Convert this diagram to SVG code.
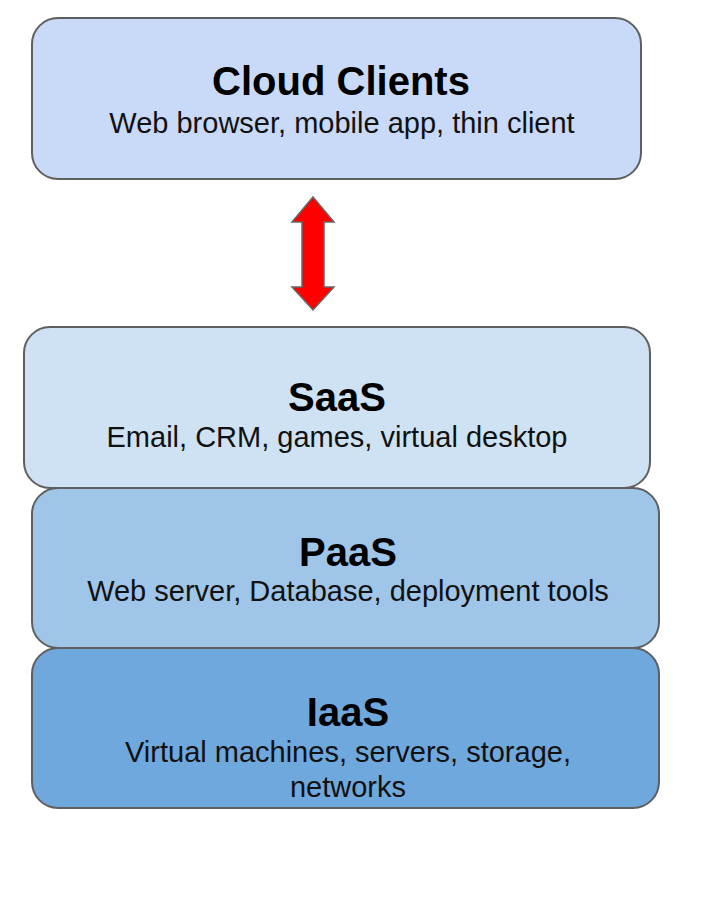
<svg xmlns="http://www.w3.org/2000/svg" width="713" height="903" viewBox="0 0 713 903">
<style>
.box{stroke:#5f5f5f;stroke-width:2}
.t{font-family:"Liberation Sans",Arial,sans-serif;font-weight:bold;font-size:40px;fill:#000;text-anchor:middle}
.s{font-family:"Liberation Sans",Arial,sans-serif;font-size:29px;fill:#111;text-anchor:middle}
</style>
<rect width="713" height="903" fill="#fff"/>
<g id="cloud-clients">
<rect class="box" x="32" y="18" width="609" height="161" rx="26" fill="#c9daf8"/>
<text class="t" x="341" y="95">Cloud Clients</text>
<text class="s" x="342" y="133">Web browser, mobile app, thin client</text>
</g>
<g id="connectors">
<path d="M313,197 L334,222 L324,222 L324,287 L334,287 L313,310 L292,287 L302,287 L302,222 L292,222 Z" fill="#ff0000" stroke="#666" stroke-width="1.5" stroke-linejoin="miter"/>
</g>
<g id="saas">
<rect class="box" x="24" y="327" width="626" height="161" rx="26" fill="#cfe2f3"/>
<text class="t" x="337" y="411">SaaS</text>
<text class="s" x="337" y="447">Email, CRM, games, virtual desktop</text>
</g>
<g id="paas">
<rect class="box" x="32" y="488" width="627" height="160" rx="26" fill="#9fc5e8"/>
<text class="t" x="348" y="566">PaaS</text>
<text class="s" x="348" y="601">Web server, Database, deployment tools</text>
</g>
<g id="iaas">
<rect class="box" x="32" y="648" width="627" height="160" rx="26" fill="#6fa8dc"/>
<text class="t" x="348" y="726">IaaS</text>
<text class="s" x="348" y="762">Virtual machines, servers, storage,</text>
<text class="s" x="348" y="797">networks</text>
</g>
</svg>
